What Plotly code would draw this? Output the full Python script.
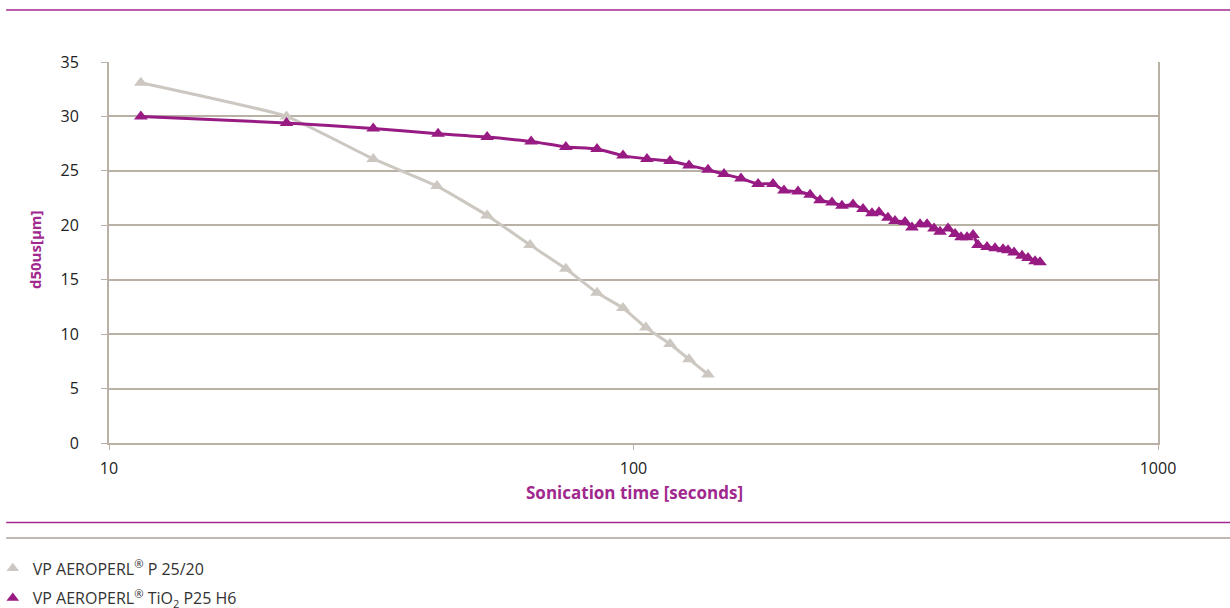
import plotly.graph_objects as go

# ---- data ----
p2520_time = [11.5, 21.8, 31.9, 42.2, 52.6, 63.5, 74.3, 85.2, 95.5, 105.6, 117.4, 127.6, 138.7]
p2520_d50 = [33.1, 30.0, 26.1, 23.6, 20.9, 18.2, 16.0, 13.8, 12.4, 10.6, 9.1, 7.7, 6.3]

tio2_time = [11.5, 21.8, 31.9, 42.4, 52.6, 63.8, 74.3, 85.2, 95.5, 106.1, 117.4, 127.6, 138.7,
             148.8, 160.3, 172.8, 184.5, 193.6, 205.9, 217.1, 226.8, 239.0, 249.7, 262.1,
             273.9, 284.9, 293.8, 305.6, 315.2, 329.3, 339.6, 351.8, 362.8, 374.1, 384.1,
             397.8, 410.3, 421.2, 432.4, 444.0, 453.8, 472.1, 489.0, 506.5, 517.6, 531.5,
             550.5, 565.2, 582.9, 595.7]
tio2_d50 = [30.0, 29.4, 28.9, 28.4, 28.1, 27.7, 27.2, 27.0, 26.4, 26.1, 25.9, 25.5, 25.1,
            24.7, 24.3, 23.8, 23.8, 23.2, 23.1, 22.8, 22.3, 22.1, 21.8, 21.9,
            21.5, 21.1, 21.2, 20.7, 20.4, 20.3, 19.8, 20.1, 20.1, 19.7, 19.4,
            19.7, 19.2, 18.9, 18.9, 19.1, 18.2, 18.0, 17.9, 17.8, 17.7, 17.5,
            17.2, 17.0, 16.7, 16.6]

x_ticks = [10, 100, 1000]
y_ticks = [0, 5, 10, 15, 20, 25, 30, 35]

name_a = "VP AEROPERL<sup>®</sup> P 25/20"
name_b = "VP AEROPERL<sup>®</sup> TiO<sub>2</sub> P25 H6"

GRAY = "#ccc7c0"
PURPLE = "#981b84"
GRID = "#b9b1a6"
MAG = "#a0288e"
FONT = "Open Sans"

fig = go.Figure()
fig.add_trace(go.Scatter(x=p2520_time, y=p2520_d50, mode="lines+markers",
                         line=dict(color=GRAY, width=3, shape="spline", smoothing=0.4),
                         marker=dict(symbol="triangle-up", size=12, color=GRAY),
                         showlegend=False))
fig.add_trace(go.Scatter(x=tio2_time, y=tio2_d50, mode="lines+markers",
                         line=dict(color=PURPLE, width=3, shape="spline", smoothing=0.6),
                         marker=dict(symbol="triangle-up", size=12, color=PURPLE),
                         showlegend=False))
# legend-only entries (marker only)
fig.add_trace(go.Scatter(x=[None], y=[None], mode="markers", name=name_a, legendgroup="a",
                         marker=dict(symbol="triangle-up", size=11, color=GRAY)))
fig.add_trace(go.Scatter(x=[None], y=[None], mode="markers", name=name_b, legendgroup="b",
                         marker=dict(symbol="triangle-up", size=11, color=PURPLE)))

fig.update_layout(
    width=1230, height=608,
    margin=dict(l=109, r=72, t=62, b=165, autoexpand=False),
    paper_bgcolor="white", plot_bgcolor="white",
    font=dict(family=FONT, size=16, color="#222222"),
    xaxis=dict(type="log", range=[1, 3], tickvals=x_ticks, ticktext=[str(v) for v in x_ticks],
               showgrid=False, showline=True, linecolor=GRID, linewidth=2,
               ticks="outside", ticklen=5, tickcolor=GRID, tickwidth=1,
               ticklabelstandoff=5,
               zeroline=False, tickfont=dict(size=16, color="#222222")),
    yaxis=dict(range=[0, 35], tickvals=y_ticks, showgrid=True, gridcolor=GRID, gridwidth=2,
               showline=True, mirror=True, linecolor=GRID, linewidth=2,
               ticks="outside", ticklen=6, tickcolor=GRID, tickwidth=1,
               ticklabelstandoff=19,
               zeroline=False, tickfont=dict(size=16, color="#222222")),
    legend=dict(x=-0.1108, y=-0.2845, xanchor="left", yanchor="top",
                font=dict(family=FONT, size=16, color="#333333"),
                tracegroupgap=6, bgcolor="rgba(0,0,0,0)"),
    annotations=[
        dict(text="<b>Sonication time [seconds]</b>", xref="paper", yref="paper",
             x=0.5014, y=-0.131, showarrow=False, xanchor="center", yanchor="middle",
             font=dict(family=FONT, size=17, color=MAG)),
        dict(text="<b>d50us[µm]</b>", xref="paper", yref="paper",
             x=-0.0705, y=0.5066, showarrow=False, textangle=-90,
             xanchor="center", yanchor="middle",
             font=dict(family=FONT, size=15, color=MAG)),
    ],
    shapes=[
        dict(type="line", xref="paper", yref="paper", x0=-0.098, x1=1.069,
             y0=(443 - 10) / 381, y1=(443 - 10) / 381, line=dict(color=MAG, width=1.5)),
        dict(type="line", xref="paper", yref="paper", x0=-0.098, x1=1.069,
             y0=(443 - 522.5) / 381, y1=(443 - 522.5) / 381, line=dict(color=MAG, width=1.5)),
        dict(type="line", xref="paper", yref="paper", x0=-0.098, x1=1.069,
             y0=(443 - 538) / 381, y1=(443 - 538) / 381, line=dict(color="#aaa298", width=1.5)),
    ],
)

fig.write_html("out.html", config={"displayModeBar": False},
               post_script="document.body.style.margin='0';")
